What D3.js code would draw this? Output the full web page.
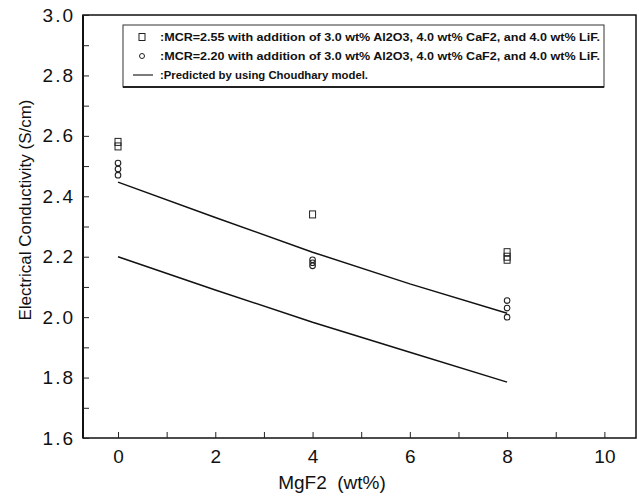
<!DOCTYPE html>
<html>
<head>
<meta charset="utf-8">
<script src="https://cdn.jsdelivr.net/npm/d3@7"></script>
<style>
body { margin: 0; background: white; }
text { font-family: "Liberation Sans", Arial, sans-serif; fill: #111; }
</style>
</head>
<body>
<script>
/* data */
var xTicks = [0, 2, 4, 6, 8, 10];
var yTicks = [1.6, 1.8, 2.0, 2.2, 2.4, 2.6, 2.8, 3.0];

var mcr255X = [0, 0, 4, 8, 8, 8];
var mcr255Y = [2.58, 2.565, 2.34, 2.215, 2.20, 2.19];

var mcr220X = [0, 0, 0, 4, 4, 4, 8, 8, 8];
var mcr220Y = [2.51, 2.49, 2.47, 2.19, 2.18, 2.17, 2.055, 2.03, 2.00];

var modelX = [0, 2, 4, 6, 8];
var model255 = [2.447, 2.33, 2.215, 2.11, 2.013];
var model220 = [2.20, 2.09, 1.983, 1.884, 1.785];

var legendLabels = [
	":MCR=2.55 with addition of 3.0 wt% Al2O3, 4.0 wt% CaF2, and 4.0 wt% LiF.",
	":MCR=2.20 with addition of 3.0 wt% Al2O3, 4.0 wt% CaF2, and 4.0 wt% LiF.",
	":Predicted by using Choudhary model."
];

drawChart();

function drawChart(){
var svg = d3.select("body").append("svg")
	.attr("width", 639).attr("height", 496);

var pLeft = 83, pRight = 636, pTop = 15, pBottom = 438;

var x = d3.scaleLinear().domain([-0.72, 10.65]).range([pLeft, pRight]);
var y = d3.scaleLinear().domain([1.6, 3.0]).range([pBottom, pTop]);

/* frame */
svg.append("rect")
	.attr("x", pLeft).attr("y", pTop)
	.attr("width", pRight - pLeft).attr("height", pBottom - pTop)
	.attr("fill", "none").attr("stroke", "#111").attr("stroke-width", 1.5);
svg.append("line")
	.attr("x1", pLeft).attr("x2", pLeft).attr("y1", pTop).attr("y2", pBottom)
	.attr("stroke", "#111").attr("stroke-width", 2);

/* x axis, ticks inward */
var xAxis = svg.append("g")
	.attr("transform", "translate(0," + pBottom + ")")
	.call(d3.axisBottom(x).tickValues(d3.range(0, 11, 1)).tickSize(-6).tickFormat(function(d) {
		return xTicks.indexOf(d) >= 0 ? d : "";
	}));
xAxis.select(".domain").remove();
xAxis.selectAll(".tick line").attr("stroke", "#222");
xAxis.selectAll("text").attr("font-size", 19).attr("y", 9).attr("dy", "0.85em").attr("fill", "#111");

/* y axis, ticks inward */
var yAxis = svg.append("g")
	.attr("transform", "translate(" + pLeft + ",0)")
	.call(d3.axisLeft(y).tickValues(d3.range(16, 31, 1).map(function(d) { return d / 10; }))
		.tickSize(-6).tickFormat(function(d) {
			var k = yTicks.some(function(t) { return Math.abs(t - d) < 1e-6; });
			return k ? d3.format(".1f")(d) : "";
		}));
yAxis.select(".domain").remove();
yAxis.selectAll(".tick line").attr("stroke", "#222");
yAxis.selectAll("text").attr("font-size", 19).attr("x", -8).attr("fill", "#111")
	.attr("letter-spacing", 2);

/* axis titles */
svg.append("text")
	.attr("x", 332).attr("y", 489)
	.attr("text-anchor", "middle").attr("font-size", 19)
	.attr("xml:space", "preserve")
	.text("MgF2  (wt%)");
svg.append("text")
	.attr("transform", "translate(31,210) rotate(-90)")
	.attr("text-anchor", "middle").attr("font-size", 17)
	.text("Electrical Conductivity (S/cm)");

/* model lines */
var line = d3.line().x(function(d) { return x(d[0]); }).y(function(d) { return y(d[1]); });
[model255, model220].forEach(function(vals) {
	svg.append("path")
		.datum(d3.zip(modelX, vals))
		.attr("d", line)
		.attr("fill", "none").attr("stroke", "#111").attr("stroke-width", 1.5);
});

/* measured points */
svg.append("g").selectAll("rect")
	.data(d3.zip(mcr255X, mcr255Y))
	.enter().append("rect")
	.attr("x", function(d) { return x(d[0]) - 3; })
	.attr("y", function(d) { return y(d[1]) - 3.5; })
	.attr("width", 6).attr("height", 7)
	.attr("fill", "none").attr("stroke", "#222").attr("stroke-width", 1);

svg.append("g").selectAll("circle")
	.data(d3.zip(mcr220X, mcr220Y))
	.enter().append("circle")
	.attr("cx", function(d) { return x(d[0]); })
	.attr("cy", function(d) { return y(d[1]); })
	.attr("r", 2.8)
	.attr("fill", "none").attr("stroke", "#222").attr("stroke-width", 1.1);

/* legend */
var lg = svg.append("g");
lg.append("rect")
	.attr("x", 123).attr("y", 25).attr("width", 481).attr("height", 62)
	.attr("fill", "white").attr("stroke", "#333").attr("stroke-width", 1);
lg.append("line")
	.attr("x1", 123).attr("x2", 604).attr("y1", 87).attr("y2", 87)
	.attr("stroke", "#222").attr("stroke-width", 2);

var rowY = [37, 56, 75];
lg.append("rect").attr("x", 139).attr("y", rowY[0] - 3.5).attr("width", 6).attr("height", 7)
	.attr("fill", "none").attr("stroke", "#222");
lg.append("circle").attr("cx", 142).attr("cy", rowY[1]).attr("r", 2.5)
	.attr("fill", "none").attr("stroke", "#222");
lg.append("line").attr("x1", 133).attr("x2", 153).attr("y1", rowY[2]).attr("y2", rowY[2])
	.attr("stroke", "#222").attr("stroke-width", 1.2);

lg.selectAll("text.leg")
	.data(legendLabels)
	.enter().append("text")
	.attr("class", "leg")
	.attr("x", 160)
	.attr("y", function(d, i) { return rowY[i] + 4; })
	.attr("font-size", 10.5).attr("font-weight", "bold")
	.attr("textLength", function(d, i) { return i < 2 ? 440 : 208; })
	.attr("lengthAdjust", "spacingAndGlyphs")
	.text(function(d) { return d; });
}
</script>
</body>
</html>
